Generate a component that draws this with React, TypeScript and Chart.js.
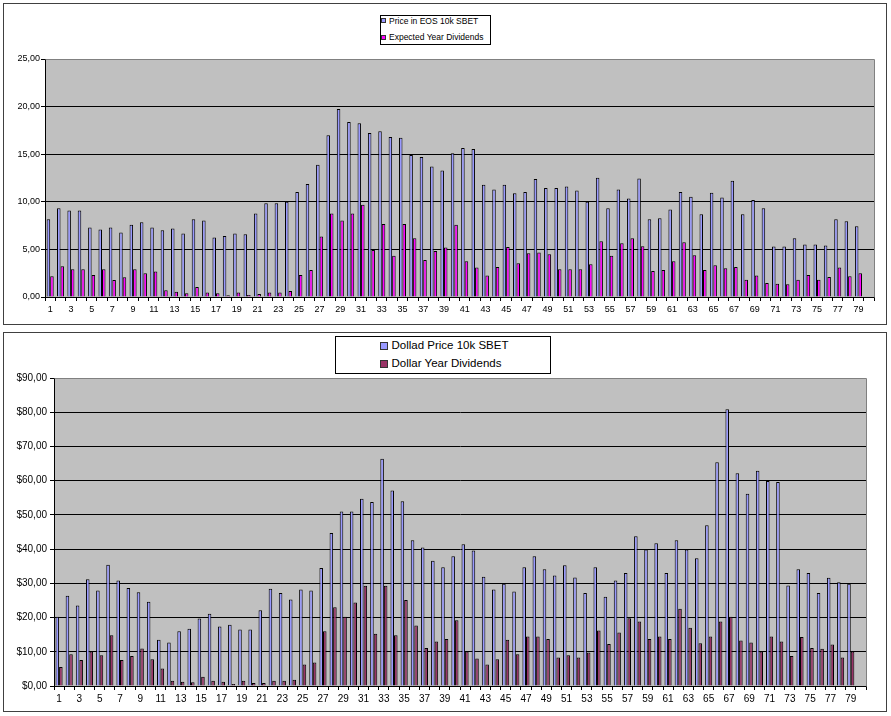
import React, { useEffect, useRef } from "react";
import { Chart, registerables } from "chart.js";

Chart.register(...registerables);
Chart.defaults.font.family = "'Liberation Sans', Arial, sans-serif";
Chart.defaults.color = "#000";

// 80 category slots (the last one is empty in the original)
const categories: string[] = [
  "1", "2", "3", "4", "5", "6", "7", "8", "9", "10",
  "11", "12", "13", "14", "15", "16", "17", "18", "19", "20",
  "21", "22", "23", "24", "25", "26", "27", "28", "29", "30",
  "31", "32", "33", "34", "35", "36", "37", "38", "39", "40",
  "41", "42", "43", "44", "45", "46", "47", "48", "49", "50",
  "51", "52", "53", "54", "55", "56", "57", "58", "59", "60",
  "61", "62", "63", "64", "65", "66", "67", "68", "69", "70",
  "71", "72", "73", "74", "75", "76", "77", "78", "79", "80",
];

const eosPrice: number[] = [
  8.18, 9.33, 9.09, 9.09, 7.30, 7.09, 7.30, 6.77, 7.58, 7.86,
  7.30, 7.02, 7.19, 6.67, 8.18, 8.04, 6.25, 6.42, 6.67, 6.60,
  8.77, 9.86, 9.86, 10.00, 11.02, 11.86, 13.90, 16.98, 19.75, 18.39,
  18.25, 17.23, 17.40, 16.80, 16.74, 14.91, 14.70, 13.72, 13.30, 15.09,
  15.65, 15.54, 11.79, 11.30, 11.79, 10.91, 11.02, 12.39, 11.44, 11.44,
  11.61, 11.19, 10.00, 12.53, 9.33, 11.30, 10.35, 12.46, 8.18, 8.28,
  9.19, 11.02, 10.53, 8.70, 10.95, 10.46, 12.21, 8.70, 10.18, 9.33,
  5.30, 5.30, 6.18, 5.51, 5.51, 5.40, 8.18, 7.96, 7.44,
];

const eosDividends: number[] = [
  2.18, 3.23, 2.91, 2.91, 2.32, 2.91, 1.79, 2.07, 2.91, 2.49,
  2.67, 0.70, 0.56, 0.39, 1.05, 0.46, 0.39, 0.18, 0.46, 0.21,
  0.32, 0.46, 0.46, 0.63, 2.32, 2.84, 6.35, 8.77, 8.04, 8.77,
  9.68, 4.95, 7.68, 4.32, 7.68, 6.18, 3.89, 4.84, 5.19, 7.58,
  3.75, 3.09, 2.25, 3.16, 5.26, 3.54, 4.60, 4.67, 4.49, 2.91,
  2.91, 2.91, 3.44, 5.86, 4.32, 5.65, 6.18, 5.33, 2.74, 2.84,
  3.75, 5.75, 4.39, 2.84, 3.33, 3.02, 3.16, 1.82, 2.25, 1.47,
  1.40, 1.33, 1.82, 2.32, 1.82, 2.10, 3.09, 2.18, 2.49,
];

const dollarPrice: number[] = [
  20.2, 26.4, 23.5, 31.2, 27.9, 35.4, 30.8, 28.6, 27.4, 24.6,
  13.5, 12.7, 16.0, 16.7, 19.7, 21.1, 17.4, 17.9, 16.5, 16.5,
  22.1, 28.4, 27.2, 25.3, 28.2, 27.9, 34.5, 44.7, 51.0, 51.0,
  54.7, 53.8, 66.4, 57.1, 54.0, 42.6, 40.5, 36.6, 34.7, 37.9,
  41.4, 39.6, 31.9, 28.2, 29.9, 27.6, 34.7, 37.9, 34.1, 32.3,
  35.3, 31.7, 27.2, 34.7, 26.1, 30.8, 33.0, 43.75, 39.9, 41.7,
  33.0, 42.6, 39.9, 37.3, 47.0, 65.4, 80.9, 62.2, 56.15, 62.9,
  59.9, 59.6, 29.4, 34.1, 33.0, 27.2, 31.6, 30.3, 29.9,
];

const dollarDividends: number[] = [
  5.57, 9.28, 7.62, 10.06, 8.98, 14.84, 7.62, 8.79, 10.94, 7.81,
  5.08, 1.56, 1.27, 1.07, 2.73, 1.56, 1.27, 0.59, 1.56, 0.88,
  0.88, 1.56, 1.56, 1.86, 6.25, 6.84, 16.0, 23.0, 20.2, 24.4,
  29.3, 15.3, 29.3, 14.8, 25.1, 17.7, 11.1, 13.0, 13.7, 19.2,
  10.06, 8.0, 6.25, 7.8, 13.5, 9.28, 14.45, 14.45, 13.7, 8.3,
  8.98, 8.3, 9.77, 16.2, 12.3, 15.6, 19.8, 18.85, 13.7, 14.45,
  13.7, 22.6, 17.0, 12.5, 14.45, 18.85, 20.2, 13.3, 12.7, 10.06,
  14.45, 13.0, 8.8, 14.3, 11.1, 10.9, 12.1, 8.3, 10.06,
];

const topSeriesNames = ["Price in EOS 10k SBET", "Expected Year Dividends"];
const bottomSeriesNames = ["Dollad Price 10k SBET", "Dollar Year Dividends"];

const plotFrame = {
  id: "plotFrame",
  beforeDraw(chart: any) {
    const { ctx, chartArea: a } = chart;
    ctx.save();
    ctx.fillStyle = "#C0C0C0";
    ctx.fillRect(a.left, a.top, a.right - a.left, a.bottom - a.top);
    ctx.restore();
  },
  afterDraw(chart: any) {
    const { ctx, chartArea: a } = chart;
    ctx.save();
    ctx.strokeStyle = "#808080";
    ctx.lineWidth = 1;
    ctx.beginPath();
    ctx.moveTo(Math.round(a.left) + 0.5, Math.round(a.top) + 0.5);
    ctx.lineTo(Math.round(a.right) + 0.5, Math.round(a.top) + 0.5);
    ctx.lineTo(Math.round(a.right) + 0.5, Math.round(a.bottom) + 0.5);
    ctx.stroke();
    ctx.restore();
  },
};

type PanelProps = {
  width: number;
  height: number;
  price: number[];
  dividends: number[];
  names: string[];
  priceColor: string;
  divColor: string;
  yMax: number;
  yStep: number;
  fmt: (v: number) => string;
  yFont: number;
  xFont: number;
  padTop: number;
  padRight: number;
  yWidth: number;
  xHeight: number;
  catPct: number;
  yPad: number;
  xPad: number;
};

function BarPanel(p: PanelProps) {
  const ref = useRef<HTMLCanvasElement | null>(null);
  useEffect(() => {
    if (!ref.current) return;
    const chart = new Chart(ref.current, {
      type: "bar",
      data: {
        labels: categories,
        datasets: [
          {
            label: p.names[0],
            data: p.price,
            backgroundColor: p.priceColor,
            borderColor: "#000",
            borderWidth: 1,
            categoryPercentage: p.catPct,
            barPercentage: 1,
          },
          {
            label: p.names[1],
            data: p.dividends,
            backgroundColor: p.divColor,
            borderColor: "#000",
            borderWidth: 1,
            categoryPercentage: p.catPct,
            barPercentage: 1,
          },
        ],
      },
      options: {
        responsive: false,
        animation: false,
        devicePixelRatio: 1,
        layout: { padding: { top: p.padTop, right: p.padRight, left: 0, bottom: 0 } },
        plugins: { legend: { display: false }, tooltip: { enabled: false } },
        scales: {
          x: {
            afterFit: (s: any) => {
              s.height = p.xHeight;
            },
            grid: {
              display: true,
              drawOnChartArea: false,
              drawTicks: true,
              tickLength: 4,
              color: "#000",
              offset: true,
            },
            border: { display: true, color: "#000", width: 1 },
            ticks: {
              autoSkip: false,
              maxRotation: 0,
              minRotation: 0,
              padding: p.xPad,
              font: { size: p.xFont },
              callback: (_v: any, i: number) => (i % 2 === 0 ? categories[i] : ""),
            },
          },
          y: {
            min: 0,
            max: p.yMax,
            afterFit: (s: any) => {
              s.width = p.yWidth;
            },
            grid: {
              color: (c: any) =>
                c.tick && c.tick.value === 0
                  ? "rgba(0,0,0,0)"
                  : c.tick && c.tick.value === p.yMax
                  ? "#808080"
                  : "#000",
              tickColor: "#000",
              tickLength: 4,
              lineWidth: 1,
            },
            border: { display: true, color: "#000", width: 1 },
            ticks: {
              stepSize: p.yStep,
              padding: p.yPad,
              font: { size: p.yFont },
              callback: (v: any) => p.fmt(Number(v)),
            },
          },
        },
      },
      plugins: [plotFrame],
    });
    return () => chart.destroy();
  }, []);
  return <canvas ref={ref} width={p.width} height={p.height} style={{ display: "block", width: p.width, height: p.height }} />;
}

function LegendRow({ top, left, sw, swColor, textLeft, font, text }: any) {
  return (
    <>
      <div
        style={{
          position: "absolute",
          left,
          top: top - sw / 2,
          width: sw,
          height: sw,
          background: swColor,
          border: "1px solid #333",
          boxSizing: "border-box",
        }}
      />
      <div
        style={{
          position: "absolute",
          left: textLeft,
          top: top - font * 0.6,
          fontSize: font,
          lineHeight: `${font * 1.2}px`,
          whiteSpace: "nowrap",
          color: "#000",
          fontFamily: "'Liberation Sans', Arial, sans-serif",
        }}
      >
        {text}
      </div>
    </>
  );
}

export default function App() {
  const comma = (v: number) => v.toFixed(2).replace(".", ",");
  return (
    <div style={{ position: "absolute", left: 0, top: 0, width: 891, height: 716, background: "#fff", overflow: "hidden" }}>
      {/* top chart */}
      <div style={{ position: "absolute", left: 3, top: 3, width: 884, height: 322, border: "1px solid #404040", boxSizing: "border-box" }}>
        <BarPanel
          width={882}
          height={320}
          price={eosPrice}
          dividends={eosDividends}
          names={topSeriesNames}
          priceColor="#9999FF"
          divColor="#FF00FF"
          yMax={25}
          yStep={5}
          fmt={comma}
          yFont={9}
          xFont={9}
          padTop={55}
          padRight={12}
          yWidth={41}
          xHeight={27}
          catPct={0.68}
          yPad={1}
          xPad={3}
        />
      </div>
      <div style={{ position: "absolute", left: 380, top: 15, width: 111, height: 30, border: "1px solid #000", boxSizing: "border-box", background: "#fff" }} />
      <LegendRow top={20.7} left={381} sw={5} swColor="#9999FF" textLeft={389} font={8.5} text={topSeriesNames[0]} />
      <LegendRow top={37.3} left={381} sw={5} swColor="#FF00FF" textLeft={389} font={8.5} text={topSeriesNames[1]} />

      {/* bottom chart */}
      <div style={{ position: "absolute", left: 3, top: 332, width: 884, height: 380, border: "1px solid #404040", boxSizing: "border-box" }}>
        <BarPanel
          width={882}
          height={378}
          price={dollarPrice}
          dividends={dollarDividends}
          names={bottomSeriesNames}
          priceColor="#9999FF"
          divColor="#993366"
          yMax={90}
          yStep={10}
          fmt={(v: number) => "$" + comma(v)}
          yFont={10}
          xFont={10}
          padTop={45}
          padRight={20}
          yWidth={50}
          xHeight={25}
          catPct={0.7}
          yPad={3}
          xPad={3}
        />
      </div>
      <div style={{ position: "absolute", left: 335, top: 336, width: 216, height: 38, border: "1px solid #000", boxSizing: "border-box", background: "#fff" }} />
      <LegendRow top={345.7} left={380} sw={8} swColor="#9999FF" textLeft={391.5} font={11.5} text={bottomSeriesNames[0]} />
      <LegendRow top={363.7} left={380} sw={8} swColor="#993366" textLeft={391.5} font={11.5} text={bottomSeriesNames[1]} />
    </div>
  );
}
